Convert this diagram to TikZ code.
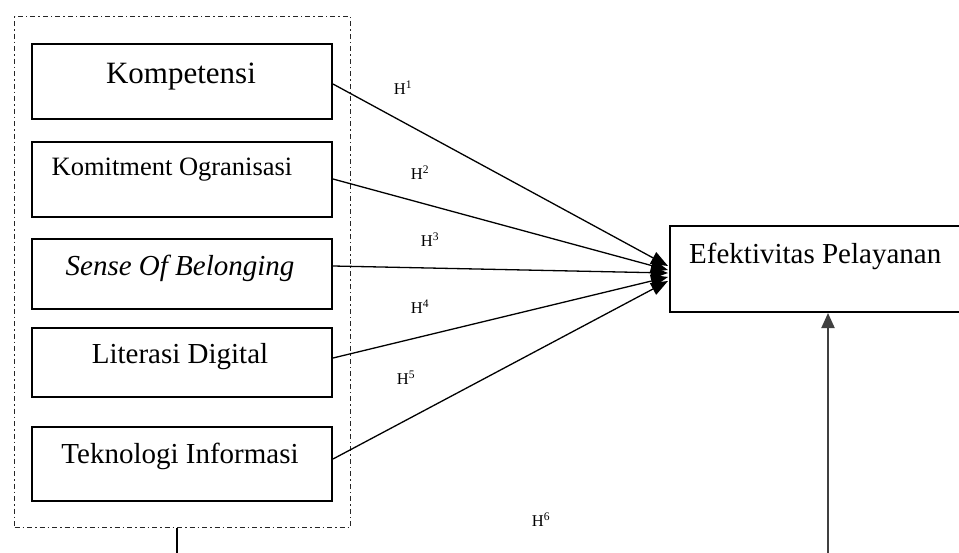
\documentclass[tikz,border=0pt]{standalone}
\usepackage{fontspec}
\setmainfont{Liberation Serif}
\usetikzlibrary{arrows.meta}
\begin{document}
\begin{tikzpicture}[x=1pt,y=-1pt,
  varbox/.style={draw=black, line width=2pt, rectangle, inner sep=0pt, anchor=north west},
  boxtext/.style={anchor=base, inner sep=0pt},
  hyp/.style={inner sep=0pt, font=\fontsize{16.5}{18}\selectfont},
  path/.style={draw=black, line width=1.3pt, -{Triangle[length=17pt,width=13pt]}},
  groupframe/.style={draw=black!85, line width=1.2pt, dash pattern=on 5pt off 3pt on 1.5pt off 3pt}
]
\useasboundingbox (0,0) rectangle (959,552);
\clip (0,0) rectangle (959,552);

% group of independent variables
\node[groupframe, rectangle, inner sep=0pt, anchor=north west,
      minimum width=336pt, minimum height=511pt] (grp) at (14,16) {};

\node[varbox, minimum width=300pt, minimum height=75pt] (b1) at (31,43) {};
\node[varbox, minimum width=300pt, minimum height=75pt] (b2) at (31,141) {};
\node[varbox, minimum width=300pt, minimum height=70pt] (b3) at (31,238) {};
\node[varbox, minimum width=300pt, minimum height=69pt] (b4) at (31,327) {};
\node[varbox, minimum width=300pt, minimum height=74pt] (b5) at (31,426) {};

\node[boxtext, font=\fontsize{31}{34}\selectfont] (t1) at (181,83) {Kompetensi};
\node[boxtext, font=\fontsize{26.5}{30}\selectfont] (t2) at (172,175) {Komitment Ogranisasi};
\node[boxtext, font=\fontsize{29}{32}\selectfont\itshape] (t3) at (180,275) {Sense Of Belonging};
\node[boxtext, font=\fontsize{29}{32}\selectfont] (t4) at (180,363) {Literasi Digital};
\node[boxtext, font=\fontsize{29}{32}\selectfont] (t5) at (180,463) {Teknologi Informasi};

% dependent variable
\node[varbox, minimum width=320pt, minimum height=86pt] (y) at (669,225) {};
\node[boxtext, anchor=base west, font=\fontsize{29}{32}\selectfont] (ty) at (689,263) {Efektivitas Pelayanan};

% arrow end points on the left side of the dependent box
\coordinate (e1) at (668,266);
\coordinate (e2) at (668,270);
\coordinate (e3) at (668,273);
\coordinate (e4) at (668,277);
\coordinate (e5) at (668,281);

\draw[path] (b1.east |- 0,84) -- (e1);
\draw[path] (b2.east |- 0,179) -- (e2);
\draw[path] (b3.east |- 0,266) -- (e3);
\draw[path] (b4.east |- 0,358) -- (e4);
\draw[path] (b5.east |- 0,459) -- (e5);

% hypothesis labels
\node[hyp] (h1) at (403,88) {H\textsuperscript{1}};
\node[hyp] (h2) at (420,173) {H\textsuperscript{2}};
\node[hyp] (h3) at (430,240) {H\textsuperscript{3}};
\node[hyp] (h4) at (420,307) {H\textsuperscript{4}};
\node[hyp] (h5) at (406,378) {H\textsuperscript{5}};
\node[hyp] (h6) at (541,520) {H\textsuperscript{6}};

% simultaneous path from the whole group
\coordinate (gdown) at (177,560);
\coordinate (ydown) at (828,560);
\draw[black, line width=1.3pt] (grp.south -| gdown) -- (gdown);
\draw[black!75, line width=2pt, -{Triangle[length=15pt,width=13pt]}] (ydown) -- (y.south -| ydown);
\end{tikzpicture}
\end{document}
